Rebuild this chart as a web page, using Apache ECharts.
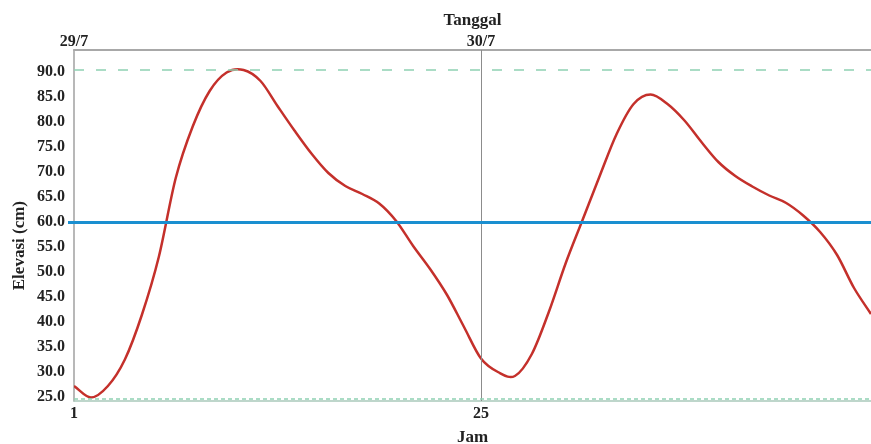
<!DOCTYPE html>
<html>
<head>
<meta charset="utf-8">
<script src="https://cdn.jsdelivr.net/npm/echarts@6/dist/echarts.min.js"></script>
<style>
  html, body { margin: 0; padding: 0; background: #fff; }
  #chart { width: 871px; height: 444px; }
</style>
</head>
<body>
<div id="chart"></div>
<script>
// hour of the record (Jam) and water elevation in cm
var hours = [];
for (var h = 1; h <= 48; h++) hours.push(h);
var elevation = [
    27.2, 24.9, 27.2, 32.5, 41.4, 53.0, 68.8, 79.1, 86.2, 89.9,
    90.4, 88.2, 83.2, 78.3, 73.7, 69.8, 67.2, 65.6, 63.7, 60.2,
    55.2, 50.6, 45.4, 39.0, 32.7, 30.0, 29.2, 33.6, 42.0, 51.8,
    60.5, 69.2, 77.6, 83.6, 85.5, 83.6, 80.3, 76.0, 72.0, 69.2,
    67.1, 65.3, 63.8, 61.3, 58.0, 53.4, 46.8, 41.6
];
var hourTicks = [1, 25];
var dateTicks = ["29/7", "30/7"];
var yTicks = [25, 30, 35, 40, 45, 50, 55, 60, 65, 70, 75, 80, 85, 90];
var refLevel = 60;      // blue reference line
var maxLevel = 90.4;    // upper dashed line
var minLevel = 24.6;    // lower dashed line

var font = "Liberation Serif";
var labelStyle = { fontFamily: font, fontWeight: "bold", fontSize: 16, color: "#222" };
var nameStyle = { fontFamily: font, fontWeight: "bold", fontSize: 17, color: "#222" };

var points = hours.map(function (h, i) { return [h, elevation[i]]; });

// smooth curve through the points, drawn in pixel space from api.coord
function renderCurve(params, api) {
    if (params.dataIndex !== 0) return null;
    var p = points.map(function (d) { return api.coord(d); });
    var n = p.length;
    var t = p.map(function (pt, i) {
        var a = p[Math.max(i - 1, 0)], b = p[Math.min(i + 1, n - 1)];
        var k = (i === 0 || i === n - 1) ? 1 : 0.5;
        return [(b[0] - a[0]) * k, (b[1] - a[1]) * k];
    });
    var d = "M" + p[0][0] + " " + p[0][1];
    for (var i = 0; i < n - 1; i++) {
        var c1 = [p[i][0] + t[i][0] / 3, p[i][1] + t[i][1] / 3];
        var c2 = [p[i + 1][0] - t[i + 1][0] / 3, p[i + 1][1] - t[i + 1][1] / 3];
        d += " C" + c1[0] + " " + c1[1] + " " + c2[0] + " " + c2[1] + " " + p[i + 1][0] + " " + p[i + 1][1];
    }
    return {
        type: "path",
        shape: { pathData: d },
        style: { fill: null, stroke: "#c4302b", lineWidth: 2.5 }
    };
}

var chart = echarts.init(document.getElementById("chart"));
chart.setOption({
    animation: false,
    grid: { left: 74, right: 0, top: 50, bottom: 43, outerBoundsMode: "none", containLabel: false },
    xAxis: [
        {
            type: "value", position: "bottom", min: 1, max: 48,
            name: "Jam", nameLocation: "middle", nameGap: 28,
            nameTextStyle: nameStyle,
            axisLine: { lineStyle: { color: "#a9c9ba", width: 1.5 } },
            axisTick: { show: false },
            splitLine: { show: false },
            axisLabel: Object.assign({ customValues: hourTicks, margin: 5 }, labelStyle)
        },
        {
            type: "value", position: "top", min: 1, max: 48,
            name: "Tanggal", nameLocation: "middle", nameGap: 21,
            nameTextStyle: nameStyle,
            axisLine: { lineStyle: { color: "#a8a8a8", width: 2 } },
            axisTick: { show: false },
            splitLine: { show: false },
            axisLabel: Object.assign({
                customValues: hourTicks, margin: 0,
                formatter: function (v) { return dateTicks[hourTicks.indexOf(v)] || ""; }
            }, labelStyle)
        }
    ],
    yAxis: {
        type: "value", min: 24.2, max: 94.4,
        axisLine: { show: true, lineStyle: { color: "#a0a0a0", width: 1.5 } },
        // the blue reference line pokes out a little left of the axis
        axisTick: { show: true, customValues: [refLevel], length: 6, lineStyle: { color: "#1a8fd0", width: 3 } },
        splitLine: { show: false },
        axisLabel: Object.assign({
            customValues: yTicks, margin: 9,
            formatter: function (v) { return v.toFixed(1); }
        }, labelStyle)
    },
    graphic: [{
        type: "text", left: 11, top: 201, rotation: Math.PI / 2,
        style: { text: "Elevasi (cm)", font: "bold 17px 'Liberation Serif'", fill: "#222" }
    }],
    series: [
        {
            type: "line",
            data: [],
            markLine: {
                silent: true,
                symbol: "none",
                label: { show: false },
                data: [
                    { xAxis: 25, lineStyle: { color: "#8c8c8c", width: 1, type: "solid" } },
                    { yAxis: refLevel, lineStyle: { color: "#1a8fd0", width: 3, type: "solid" } },
                    { yAxis: maxLevel, lineStyle: { color: "#8fd1b2", width: 1.5, type: [10, 12] } },
                    { yAxis: minLevel, lineStyle: { color: "#8fd1b2", width: 1.5, type: [4, 3] } }
                ]
            }
        },
        {
            type: "custom",
            data: points,
            renderItem: renderCurve,
            clip: true,
            z: 3
        }
    ]
});
</script>
</body>
</html>
